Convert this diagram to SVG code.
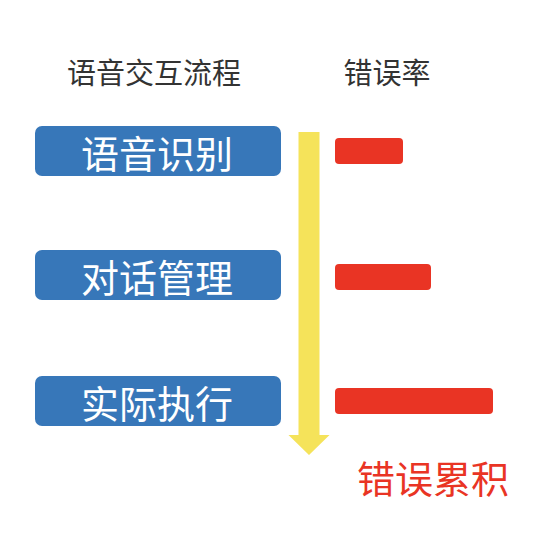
<svg xmlns="http://www.w3.org/2000/svg" width="536" height="542" viewBox="0 0 536 542">
<style>
.hdr{font-family:"Noto Sans CJK SC","Noto Sans",sans-serif;font-size:29px;fill:#333333;text-anchor:middle}
.box{fill:#3777b9}
.lbl{font-family:"Noto Sans CJK SC","Noto Sans",sans-serif;font-size:38px;fill:#ffffff;text-anchor:middle}
.bar{fill:#e93424}
.acc{font-family:"Noto Sans CJK SC","Noto Sans",sans-serif;font-size:38px;fill:#e93424;text-anchor:middle}
</style>
<rect width="536" height="542" fill="#ffffff"/>
<g id="headers">
<text class="hdr" x="154" y="84">语音交互流程</text>
<text class="hdr" x="387" y="84">错误率</text>
</g>
<g id="connectors">
<polygon points="298.5,132 319.5,132 319.5,435 329.5,435 309,455 288.5,435 298.5,435" fill="#f5e35a"/>
</g>
<g id="node-asr">
<rect class="box" x="35" y="126" width="246" height="50" rx="7"/>
<text class="lbl" x="157" y="168">语音识别</text>
</g>
<g id="node-dm">
<rect class="box" x="35" y="250" width="246" height="50" rx="7"/>
<text class="lbl" x="157" y="292">对话管理</text>
</g>
<g id="node-exec">
<rect class="box" x="35" y="376" width="246" height="50" rx="7"/>
<text class="lbl" x="157" y="418">实际执行</text>
</g>
<g id="bar-1"><rect class="bar" x="335" y="138" width="68" height="26" rx="4"/></g>
<g id="bar-2"><rect class="bar" x="335" y="264" width="96" height="26" rx="4"/></g>
<g id="bar-3"><rect class="bar" x="335" y="388" width="158" height="26" rx="4"/></g>
<g id="label-accum">
<text class="acc" x="433" y="493">错误累积</text>
</g>
</svg>
